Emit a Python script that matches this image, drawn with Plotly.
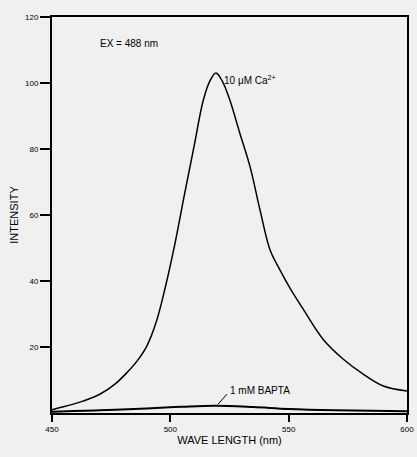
import plotly.graph_objects as go

# Data
ca_wavelength = [450, 456, 463, 470, 477, 482, 486, 490, 494, 498, 502, 506, 510, 514,
                 517.0, 519.3, 522.0, 525.2, 529.4, 533.7, 537.9, 542.1, 546.3,
                 551.0, 556.2, 564.6, 573.1, 581.5, 590.0, 600]
ca_intensity = [1.0, 2.1, 3.6, 5.6, 9.0, 12.5, 15.8, 20.2, 27.5, 38.5, 51.5, 66.3, 80.7, 95.0,
                101.0, 103.0, 100.5, 94.7, 84.7, 74.6, 61.5, 49.5, 43.4,
                37.3, 31.4, 22.3, 16.3, 11.8, 8.2, 6.7]

bapta_wavelength = [450, 470, 490, 505, 519, 535, 550, 570, 600]
bapta_intensity = [0.4, 0.8, 1.4, 1.9, 2.2, 1.8, 1.2, 0.8, 0.5]

x_ticks = [450, 500, 550, 600]
y_ticks = [20, 40, 60, 80, 100, 120]

FONT = "Liberation Sans, Arial, sans-serif"

fig = go.Figure()
fig.add_trace(go.Scatter(x=ca_wavelength, y=ca_intensity, mode="lines",
                         line=dict(color="black", width=1.5, shape="spline", smoothing=1.0),
                         showlegend=False, hoverinfo="skip"))
fig.add_trace(go.Scatter(x=bapta_wavelength, y=bapta_intensity, mode="lines",
                         line=dict(color="black", width=2, shape="spline"),
                         showlegend=False, hoverinfo="skip"))

fig.add_annotation(x=521.8, y=100.8, text="10 μM Ca<sup>2+</sup>", showarrow=False,
                   xanchor="left", yanchor="middle", font=dict(size=10, color="black", family=FONT))
fig.add_annotation(x=469.4, y=112, text="EX = 488 nm", showarrow=False,
                   xanchor="left", yanchor="middle", font=dict(size=10, color="black", family=FONT))
fig.add_annotation(x=524.4, y=6.9, text="1 mM BAPTA", showarrow=False,
                   xanchor="left", yanchor="middle", font=dict(size=10, color="black", family=FONT))
fig.add_shape(type="line", x0=520.1, y0=2.6, x1=523.9, y1=5.7, xref="x", yref="y",
              line=dict(color="black", width=1))

fig.update_xaxes(range=[450, 600], tickvals=x_ticks, ticktext=[str(v) for v in x_ticks],
                 showline=True, linecolor="black", linewidth=2, mirror=True,
                 ticks="outside", ticklen=7, tickwidth=1.5, tickcolor="black",
                 showgrid=False, zeroline=False, automargin=False,
                 tickfont=dict(size=8, color="black", family=FONT),
                 title=dict(text="WAVE LENGTH (nm)", font=dict(size=11, color="black", family=FONT),
                            standoff=2))
fig.update_yaxes(range=[0, 120], tickvals=y_ticks, ticktext=[str(v) for v in y_ticks],
                 showline=True, linecolor="black", linewidth=2, mirror=True,
                 ticks="outside", ticklen=10, tickwidth=1.5, tickcolor="black",
                 showgrid=False, zeroline=False, automargin=False,
                 tickfont=dict(size=8, color="black", family=FONT),
                 title=dict(text="INTENSITY", font=dict(size=11, color="black", family=FONT),
                            standoff=4))

fig.update_layout(width=417, height=457,
                  margin=dict(l=52, r=10, t=17, b=44),
                  paper_bgcolor="#f0f0f0", plot_bgcolor="#f0f0f0",
                  font=dict(family=FONT, color="black"))

fig.write_html("out.html",
               config={"displayModeBar": False},
               post_script="document.body.style.margin='0px';"
                           "document.body.style.overflow='hidden';"
                           "document.documentElement.style.overflow='hidden';")
